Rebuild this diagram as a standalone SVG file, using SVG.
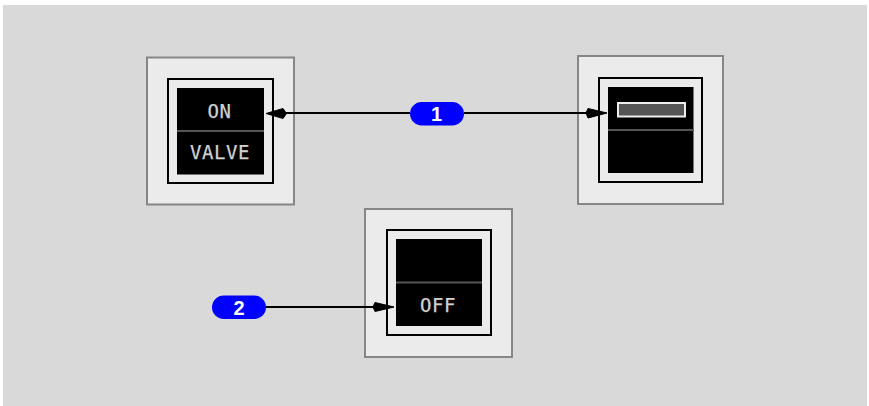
<svg xmlns="http://www.w3.org/2000/svg" width="869" height="406" viewBox="0 0 869 406">
<style>
.outer{fill:#ebebeb;stroke:#868686;stroke-width:2}
.inner{fill:#ebebeb;stroke:#000;stroke-width:2}
.screen{fill:#000}
.div{stroke:#555;stroke-width:2}
.lbl{font-family:"DejaVu Sans Mono",monospace;font-size:19px;fill:#d0d0d0;stroke:#d0d0d0;stroke-width:.25;text-anchor:middle;letter-spacing:.6px}
.pill{fill:#0000ff}
.num{font-family:"Liberation Sans",Arial,sans-serif;font-weight:bold;font-size:20px;fill:#fff;text-anchor:middle}
.conn{stroke:#000;stroke-width:2;fill:none}
.head{fill:#000;stroke:#000;stroke-width:1;stroke-linejoin:round}
</style>
<rect x="3" y="5" width="864" height="401" fill="#d9d9d9"/>
<g id="node-valve-on">
<rect class="outer" x="147" y="57.500" width="147" height="147"/>
<rect class="inner" x="168" y="79" width="105" height="104"/>
<rect class="screen" x="177" y="88" width="87" height="86.500"/>
<line class="div" x1="177" y1="131" x2="264" y2="131"/>
<text class="lbl" x="219.500" y="118">ON</text>
<text class="lbl" x="220" y="158.500">VALVE</text>
</g>
<g id="node-bar">
<rect class="outer" x="578" y="56" width="145" height="148"/>
<rect class="inner" x="599" y="78" width="103" height="104"/>
<rect class="screen" x="608" y="87" width="85.500" height="86"/>
<line class="div" x1="608" y1="130" x2="694" y2="130"/>
<rect x="618" y="103" width="67" height="13.500" fill="#555" stroke="#eee" stroke-width="2"/>
</g>
<g id="node-off">
<rect class="outer" x="365" y="209" width="147" height="148"/>
<rect class="inner" x="387" y="230" width="104" height="105"/>
<rect class="screen" x="396" y="239" width="86" height="87"/>
<line class="div" x1="396" y1="282.500" x2="482" y2="282.500"/>
<text class="lbl" x="438" y="311.500">OFF</text>
</g>
<g id="connectors">
<line class="conn" x1="284" y1="113" x2="410" y2="113"/>
<line class="conn" x1="464" y1="113" x2="588" y2="113"/>
<line class="conn" x1="266" y1="307" x2="374" y2="307"/>
<path class="head" d="M266 113.500L283 108.500L286.500 113.500L283 118.500Z"/>
<path class="head" d="M607 113L588 108.500L586 113L588 118Z"/>
<path class="head" d="M394 307L375 302.500L373 307L375 311.500Z"/>
</g>
<g id="badge-1">
<rect class="pill" x="410" y="102" width="54" height="23.500" rx="11.750"/>
<text class="num" x="436.500" y="121">1</text>
</g>
<g id="badge-2">
<rect class="pill" x="212" y="295.500" width="54" height="23.500" rx="11.750"/>
<text class="num" x="239" y="314.500">2</text>
</g>
</svg>
